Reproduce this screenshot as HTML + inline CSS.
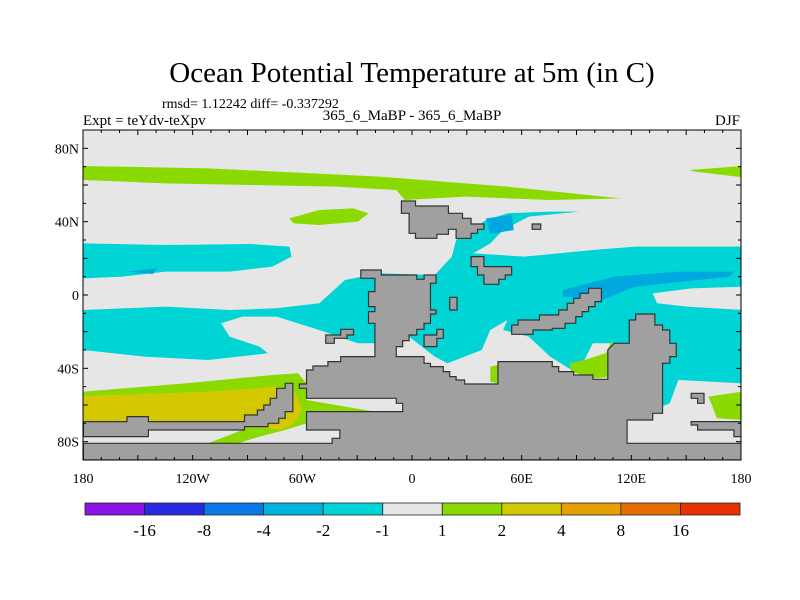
<!DOCTYPE html>
<html><head><meta charset="utf-8"><style>
body{margin:0;background:#fff;}
svg{display:block;font-family:"Liberation Serif",serif;}
</style></head><body>
<svg id="chart" width="800" height="600" viewBox="0 0 800 600">
<text x="412" y="82" font-size="29" text-anchor="middle">Ocean Potential Temperature at 5m (in C)</text>
<text x="162" y="108" font-size="14">rmsd= 1.12242 diff= -0.337292</text>
<text x="83" y="125" font-size="15">Expt = teYdv-teXpv</text>
<text x="412" y="120" font-size="15" text-anchor="middle">365_6_MaBP - 365_6_MaBP</text>
<text x="740" y="125" font-size="15" text-anchor="end">DJF</text>
<defs><clipPath id="pc"><rect x="83" y="130" width="658" height="330"/></clipPath></defs>
<g clip-path="url(#pc)">
<rect x="83" y="130" width="658" height="330" fill="#e6e6e6"/>
<g transform="translate(80,90) scale(0.4274,0.3333)">
<polygon fill="#8ad900" points="8,228 300,235 700,260 1000,290 1265,325 1100,330 900,320 760,330 740,300 600,290 400,285 200,280 8,270"/>
<polygon fill="#8ad900" points="1425,240 1550,228 1550,262 1440,245"/>
<polygon fill="#8ad900" points="490,385 560,360 640,355 675,370 650,395 560,405 500,400"/>
<polygon fill="#00d4d4" points="8,460 200,465 400,462 490,470 495,500 450,530 350,545 200,545 100,560 8,565"/>
<polygon fill="#00d4d4" points="8,660 200,650 350,660 460,655 560,640 620,570 660,560 700,550 830,555 870,500 880,450 950,390 1000,370 1100,365 1170,365 1050,380 990,420 960,460 920,490 1040,500 1200,480 1300,470 1550,470 1550,590 1430,595 1340,610 1350,640 1420,650 1550,660 1550,880 1400,870 1380,940 1340,960 1300,800 1240,760 1200,760 1180,810 1150,840 1100,800 1050,740 990,720 1000,690 960,720 940,780 900,800 860,820 830,800 800,770 780,750 760,730 700,760 650,760 560,720 460,680 380,680 330,700 350,740 420,770 440,790 300,810 150,800 8,780"/>
<polygon fill="#00a8e0" points="950,385 1010,375 1015,420 960,432"/>
<polygon fill="#00a8e0" points="1130,600 1250,560 1400,545 1530,545 1520,560 1300,590 1220,630 1130,620"/>
<polygon fill="#00a8e0" points="110,545 180,535 170,552"/>
<polygon fill="#8ad900" points="8,905 250,880 450,855 510,850 530,880 530,930 620,950 690,965 620,980 530,1000 480,1020 420,1040 370,1060 300,1060 380,1020 390,1000 8,1000"/>
<polygon fill="#d4c800" points="8,918 300,905 460,890 500,900 520,960 500,1000 470,1020 420,1010 8,1000"/>
<polygon fill="#8ad900" points="1145,820 1180,810 1230,790 1245,750 1250,860 1200,865 1150,845"/>
<polygon fill="#8ad900" points="1470,920 1550,905 1550,990 1490,985 1480,950"/>
<polygon fill="#8ad900" points="960,830 978,825 978,880 960,875"/>
<g fill="#a0a0a0" stroke="#333" stroke-width="1.2" vector-effect="non-scaling-stroke">
<polygon vector-effect="non-scaling-stroke" points="752,333 785,333 785,348 862,348 862,370 895,370 895,385 915,385 915,402 945,402 945,418 930,418 930,430 915,430 915,445 880,445 880,418 862,418 862,433 835,433 835,445 785,445 785,430 770,430 770,370 752,370"/>
<polygon vector-effect="non-scaling-stroke" points="1058,402 1078,402 1078,418 1058,418"/>
<polygon vector-effect="non-scaling-stroke" points="915,500 945,500 945,530 1010,530 1010,555 995,555 995,568 980,568 980,583 945,583 945,555 930,555 930,530 915,530"/>
<polygon vector-effect="non-scaling-stroke" points="657,540 705,540 705,555 788,555 788,568 805,568 805,555 833,555 833,580 820,580 820,660 833,660 833,672 820,672 820,700 805,700 805,718 788,718 788,735 770,735 770,752 755,752 755,770 740,770 740,800 805,800 805,820 820,820 820,830 850,830 850,845 865,845 865,860 880,860 880,870 900,870 900,882 978,882 978,815 1105,815 1105,830 1120,830 1120,845 1155,845 1155,855 1200,855 1200,868 1235,868 1235,780 1250,760 1285,760 1285,690 1300,690 1300,672 1345,672 1345,705 1363,705 1363,720 1380,720 1380,760 1395,760 1395,800 1380,800 1380,820 1363,820 1363,970 1340,970 1340,990 1280,990 1280,1060 1550,1060 1550,1110 8,1110 8,1060 590,1060 590,1045 608,1045 608,1020 530,1020 530,965 755,965 755,940 740,940 740,925 530,925 530,895 513,895 513,882 530,882 530,840 545,840 545,828 580,828 580,815 610,815 610,800 690,800 690,700 675,700 675,665 690,665 690,650 675,650 675,605 690,605 690,565 657,565"/>
<polygon vector-effect="non-scaling-stroke" points="575,735 610,735 610,718 640,718 640,735 625,735 625,745 595,745 595,760 575,760"/>
<polygon vector-effect="non-scaling-stroke" points="805,735 835,735 835,718 850,718 850,745 835,745 835,770 805,770"/>
<polygon vector-effect="non-scaling-stroke" points="865,622 882,622 882,660 865,660"/>
<polygon vector-effect="non-scaling-stroke" points="1010,705 1025,705 1025,690 1075,690 1075,675 1120,675 1120,660 1140,660 1140,640 1155,640 1155,625 1170,625 1170,610 1190,610 1190,595 1220,595 1220,635 1205,635 1205,650 1190,650 1190,665 1175,665 1175,680 1160,680 1160,700 1135,700 1135,715 1105,715 1105,720 1060,720 1060,733 1010,733"/>
<polygon vector-effect="non-scaling-stroke" points="8,995 110,995 110,980 160,980 160,995 385,995 385,975 415,975 415,960 430,960 430,945 445,945 445,925 460,925 460,895 480,895 480,880 498,880 498,965 480,965 480,985 465,985 465,1000 440,1000 440,1010 385,1010 385,1020 160,1020 160,1040 8,1040"/>
<polygon vector-effect="non-scaling-stroke" points="1430,910 1460,910 1460,940 1445,940 1445,925 1430,925"/>
<polygon vector-effect="non-scaling-stroke" points="1430,995 1550,995 1550,1040 1530,1040 1530,1020 1445,1020 1445,1005 1430,1005"/>
</g>
</g>
</g>
<rect x="83" y="130" width="658" height="330" fill="none" stroke="#000" stroke-width="1"/>
<g id="axes"></g>
<g id="cbar"></g>
</svg>
<script>
const xTickLabels=["180","120W","60W","0","60E","120E","180"];
const xTickLons=[-180,-120,-60,0,60,120,180];
const yTickLabels=["80N","40N","0","40S","80S"];
const yTickLats=[80,40,0,-40,-80];
const levelLabels=["-16","-8","-4","-2","-1","1","2","4","8","16"];
const levelColors=["#8a14e6","#2a2ae0","#0a78e6","#00b4e0","#00d4d4","#e6e6e6","#8ad900","#d4c800","#e6a000","#e66e00","#e63200"];
const NS="http://www.w3.org/2000/svg";
const X0=83,X1=741,Y0=130,Y1=460;
const xs=lon=>X0+(lon+180)/360*(X1-X0);
const ys=lat=>Y0+(90-lat)/180*(Y1-Y0);
const ax=document.getElementById('axes');
function line(g,x1,y1,x2,y2){const l=document.createElementNS(NS,'line');l.setAttribute('x1',x1);l.setAttribute('y1',y1);l.setAttribute('x2',x2);l.setAttribute('y2',y2);l.setAttribute('stroke','#000');l.setAttribute('stroke-width','1');


g.appendChild(l);}
function txt(g,x,y,s,anchor,size){const t=document.createElementNS(NS,'text');t.setAttribute('x',x);t.setAttribute('y',y);t.setAttribute('text-anchor',anchor);t.setAttribute('font-size',size);t.textContent=s;


g.appendChild(t);}
for(let lon=-180;lon<=180;lon+=10){const x=xs(lon);const L=(lon%30===0)?5:3;line(ax,x,Y0,x,Y0+L);line(ax,x,Y1,x,Y1-L);}
for(let lat=-90;lat<=90;lat+=10){const y=ys(lat);const L=(lat%20===0)?5:3;line(ax,X0,y,X0+L,y);line(ax,X1,y,X1-L,y);}
xTickLons.forEach((lon,i)=>txt(ax,xs(lon),483,xTickLabels[i],'middle',14));
yTickLats.forEach((lat,i)=>txt(ax,79,ys(lat)+5,yTickLabels[i],'end',14));
const cb=document.getElementById('cbar');
const CX0=85,CX1=740,CY=503,CH=12,n=levelColors.length,w=(CX1-CX0)/n;
levelColors.forEach((c,i)=>{const r=document.createElementNS(NS,'rect');r.setAttribute('x',CX0+i*w);r.setAttribute('y',CY);r.setAttribute('width',w);r.setAttribute('height',CH);r.setAttribute('fill',c);r.setAttribute('stroke','#222');r.setAttribute('stroke-width','0.8');


cb.appendChild(r);});
levelLabels.forEach((s,i)=>txt(cb,CX0+(i+1)*w,536,s,'middle',17));
</script>
</body></html>
